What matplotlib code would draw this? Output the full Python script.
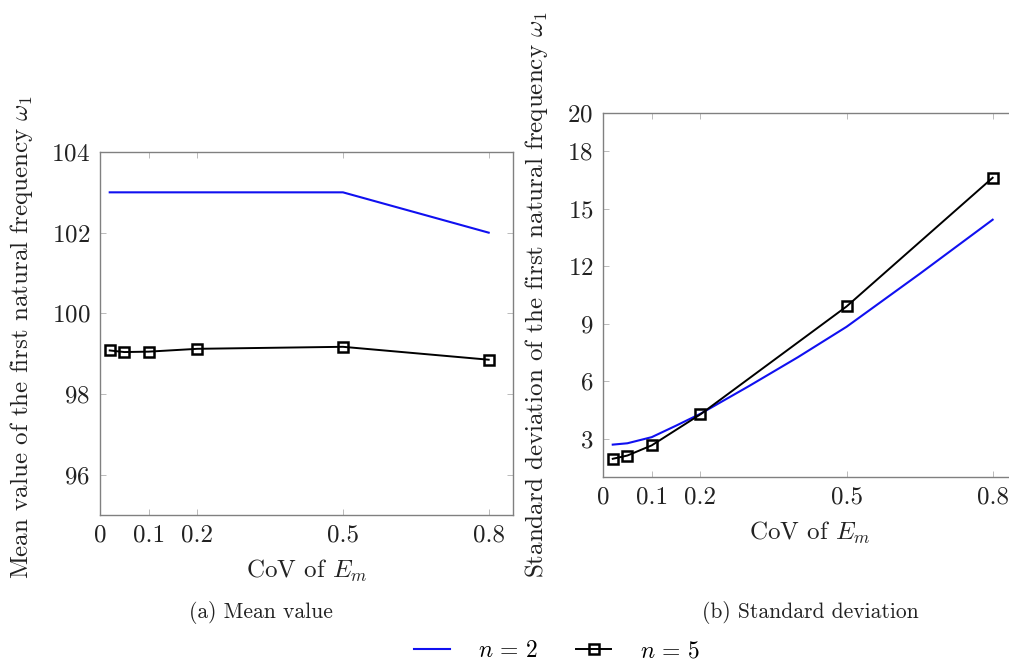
import matplotlib
matplotlib.use("Agg")
import matplotlib.pyplot as plt
from matplotlib.lines import Line2D

plt.rcParams['font.family'] = 'serif'
plt.rcParams['font.serif'] = ['cmr10']
plt.rcParams['mathtext.fontset'] = 'cm'
plt.rcParams['axes.unicode_minus'] = False
plt.rcParams['axes.formatter.use_mathtext'] = True

# Data
cov_n2 = [0.02, 0.05, 0.1, 0.2, 0.5, 0.8]
mean_n2 = [103.0, 103.0, 103.0, 103.0, 103.0, 102.0]
cov_n5 = [0.02, 0.05, 0.1, 0.2, 0.5, 0.8]
mean_n5 = [99.08, 99.04, 99.05, 99.12, 99.17, 98.85]

cov_std_n2 = [0.02, 0.05, 0.1, 0.15, 0.2, 0.3, 0.4, 0.5, 0.65, 0.8]
std_n2 = [2.69, 2.76, 3.08, 3.68, 4.30, 5.75, 7.25, 8.84, 11.6, 14.43]
std_n5 = [1.95, 2.12, 2.65, 4.27, 9.9, 16.62]

x_ticks = [0, 0.1, 0.2, 0.5, 0.8]
x_ticklabels = ['0', '0.1', '0.2', '0.5', '0.8']
mean_ticks = [96, 98, 100, 102, 104]
std_ticks = [3, 6, 9, 12, 15, 18, 20]

W, H = 1009, 666
fig = plt.figure(figsize=(W / 100, H / 100), dpi=100)

def px_axes(x0, y0, x1, y1):
    return fig.add_axes([x0 / W, 1 - y1 / H, (x1 - x0) / W, (y1 - y0) / H])

ax1 = px_axes(100, 152, 513, 515)
ax2 = px_axes(603, 113, 1017, 477)

spine_col = '#808080'
for ax in (ax1, ax2):
    for s in ax.spines.values():
        s.set_color(spine_col)
        s.set_linewidth(1.0)
    ax.tick_params(direction='in', length=4, width=0.6, color='#b0b0b0',
                   top=True, right=True, labelsize=18, pad=7, labelcolor='#222222')
    ax.set_xticks(x_ticks)
    ax.set_xticklabels(x_ticklabels)
    ax.set_xlim(0, 0.85)

blue = '#1010f0'
mk = dict(color='black', lw=1.4, marker='s', markersize=7.5,
          markerfacecolor='none', markeredgewidth=1.8)
ax1.plot(cov_n2, mean_n2, color=blue, lw=1.5)
ax1.plot(cov_n5, mean_n5, **mk)
ax1.set_ylim(95, 104)
ax1.set_yticks(mean_ticks)
ax1.set_xlabel(r'CoV of $E_m$', fontsize=18, labelpad=8, color='#222222')
ax1.set_ylabel(r'Mean value of the first natural frequency $\omega_1$', fontsize=18, color='#222222')
ax1.yaxis.set_label_coords(-0.157, 0.49)

ax2.plot(cov_std_n2, std_n2, color=blue, lw=1.5)
ax2.plot(cov_n5, std_n5, **mk)
ax2.set_ylim(1, 20)
ax2.set_yticks(std_ticks)
ax2.set_xlabel(r'CoV of $E_m$', fontsize=18, labelpad=8, color='#222222')
ax2.set_ylabel(r'Standard deviation of the first natural frequency $\omega_1$', fontsize=18, color='#222222')
ax2.yaxis.set_label_coords(-0.128, 0.5)

fig.text(261 / W, 1 - 612 / H, '(a) Mean value', fontsize=15.5, ha='center', va='center', color='#222222')
fig.text(810 / W, 1 - 612 / H, '(b) Standard deviation', fontsize=15.5, ha='center', va='center', color='#222222')

handles = [Line2D([], [], color=blue, lw=1.5), Line2D([], [], **mk)]
fig.legend(handles, [r'$n\,=\,2$', r'$n\,=\,5$'], loc='center', bbox_to_anchor=(557 / W, 1 - 651 / H),
           ncol=2, frameon=False, fontsize=17, handlelength=1.5, columnspacing=1.6,
           handletextpad=1.2)

fig.savefig('out.png', dpi=100)
